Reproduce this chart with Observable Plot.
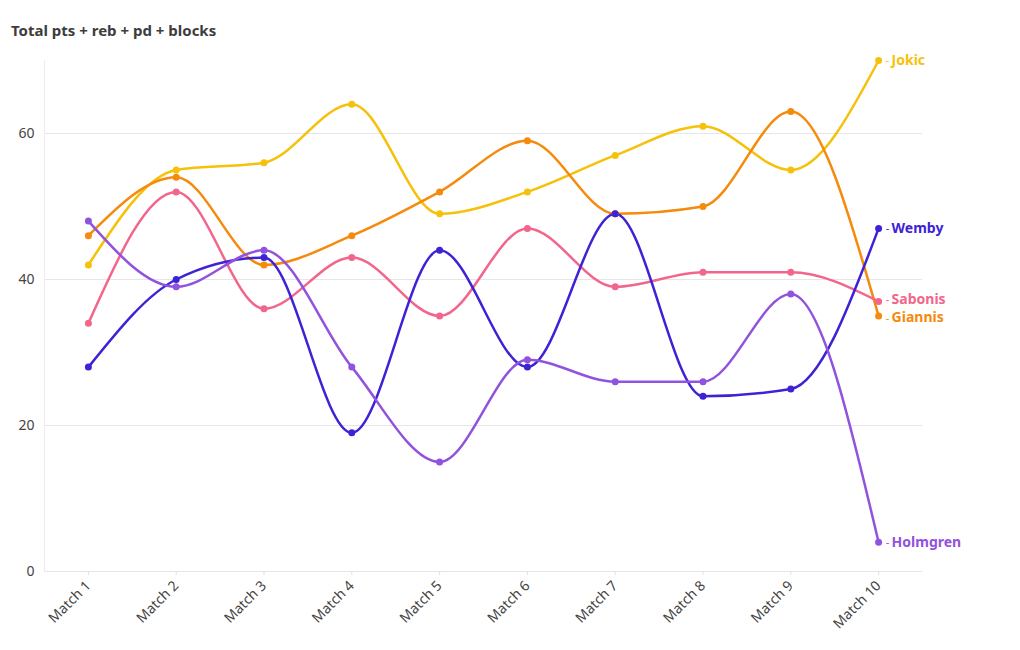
<!DOCTYPE html>
<html>
<head>
<meta charset="utf-8">
<script src="https://cdn.jsdelivr.net/npm/d3@7"></script>
<script src="https://cdn.jsdelivr.net/npm/@observablehq/plot@0.6"></script>
<style>
  body { margin: 0; background: #fff; font-family: "Noto Sans", Roboto, sans-serif; }
  #title { height: 50px; box-sizing: border-box; padding: 23px 0 0 11px; font-size: 15px; font-weight: 700; color: #3d3d3d; line-height: 1; }
</style>
</head>
<body>
<div id="title">Total pts + reb + pd + blocks</div>
<div id="chart"></div>
<script>
const matches = ["Match 1","Match 2","Match 3","Match 4","Match 5","Match 6","Match 7","Match 8","Match 9","Match 10"];
const players = ["Jokic","Giannis","Sabonis","Wemby","Holmgren"];
const jokic    = [42, 55, 56, 64, 49, 52, 57, 61, 55, 70];
const giannis  = [46, 54, 42, 46, 52, 59, 49, 50, 63, 35];
const sabonis  = [34, 52, 36, 43, 35, 47, 39, 41, 41, 37];
const wemby    = [28, 40, 43, 19, 44, 28, 49, 24, 25, 47];
const holmgren = [48, 39, 44, 28, 15, 29, 26, 26, 38, 4];
const colors   = ["#f5c10a", "#f58a0c", "#f2668b", "#3d22d6", "#9152dd"];
const yTicks   = [0, 20, 40, 60];

const seriesValues = [jokic, giannis, sabonis, wemby, holmgren];
const data = players.flatMap((p, i) => matches.map((m, j) => ({player: p, match: m, value: seriesValues[i][j]})));
const last = data.filter(d => d.match === matches[matches.length - 1]);
const labelOffsets = {Sabonis: -2, Giannis: 2};

const labelMarks = players.map(p => {
  const rows = last.filter(d => d.player === p);
  const dy = labelOffsets[p] || 0;
  return [
    Plot.text(rows, {x: "match", y: "value", text: () => "-", fill: "player", dx: 9, dy: dy, fontSize: 11, textAnchor: "middle"}),
    Plot.text(rows, {x: "match", y: "value", text: "player", fill: "player", dx: 13, dy: dy, fontSize: 14, fontWeight: 700, textAnchor: "start"})
  ];
}).flat();

const chart = Plot.plot({
  width: 1020,
  height: 600,
  marginTop: 10,
  marginLeft: 44,
  marginRight: 98,
  marginBottom: 79,
  style: {fontFamily: "'Noto Sans', Roboto, sans-serif", fontSize: "13px", color: "#444", background: "white"},
  x: {type: "point", domain: matches, padding: 0.5, round: false, label: null, tickRotate: -45, tickSize: 4},
  y: {domain: [0, 70], ticks: yTicks, label: null, tickSize: 0, tickPadding: 10},
  color: {domain: players, range: colors},
  marks: [
    Plot.gridY(yTicks, {stroke: "#e6e6e6", strokeOpacity: 1}),
    Plot.frame({anchor: "left", stroke: "#ececec"}),
    Plot.axisX({tickRotate: -45, tickSize: 4, stroke: "#e0e0e0", fill: "#444", fontSize: 14, label: null}),
    Plot.axisY({ticks: yTicks, tickSize: 0, tickPadding: 10, fill: "#444", fontSize: 14, label: null}),
    Plot.line(data, {x: "match", y: "value", z: "player", stroke: "player", strokeWidth: 2.5, curve: "monotone-x"}),
    Plot.dot(data, {x: "match", y: "value", fill: "player", r: 3.5}),
    ...labelMarks
  ]
});
document.getElementById("chart").appendChild(chart);
</script>
</body>
</html>
